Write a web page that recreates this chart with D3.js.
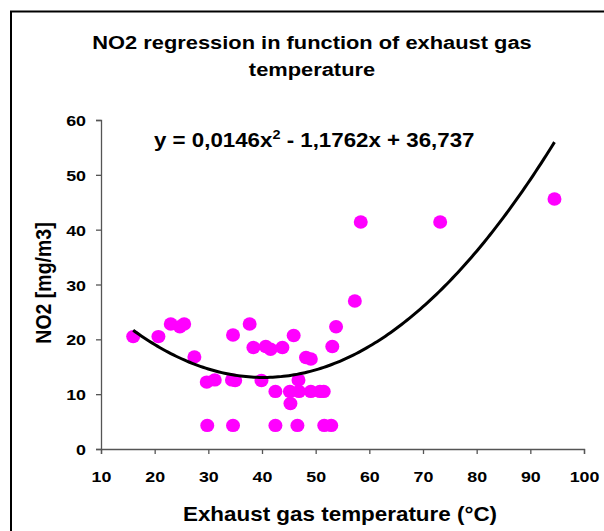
<!DOCTYPE html>
<html>
<head>
<meta charset="utf-8">
<script src="https://cdn.jsdelivr.net/npm/d3@7"></script>
<style>
  body { margin: 0; background: #fff; }
  text { font-family: "Liberation Sans", Arial, sans-serif; font-weight: bold; fill: #000; }
</style>
</head>
<body>
<svg id="chart" width="604" height="531"></svg>
<script>
// exhaust gas temperature (°C) / NO2 (mg/m3)
const temps = [16.0, 20.7, 23.0, 24.7, 25.5, 27.4, 29.7, 31.2, 29.8, 34.6,
  34.4, 35.0, 34.6, 37.7, 38.4, 40.7, 41.6, 43.8, 39.9, 42.5,
  42.5, 45.9, 46.8, 45.2, 46.9, 45.3, 46.6, 48.2, 49.1, 49.1,
  50.8, 51.5, 51.6, 52.9, 53.1, 53.8, 57.3, 58.4, 73.2, 94.5];
const no2 = [20.5, 20.5, 22.8, 22.3, 22.8, 16.8, 12.2, 12.6, 4.3, 20.8,
  12.6, 12.5, 4.3, 22.8, 18.5, 18.7, 18.2, 18.5, 12.5, 10.5,
  4.3, 20.7, 12.6, 10.5, 10.5, 8.3, 4.3, 16.7, 16.4, 10.5,
  10.5, 10.5, 4.3, 4.3, 18.7, 22.3, 27.0, 41.4, 41.4, 45.6];

// polynomial trendline as printed on the chart: a*x^2 + b*x + c
const trendCoef = [0.0146, -1.1762, 36.737];
const trendFrom = 16, trendTo = 94.5;

const xTicks = [10, 20, 30, 40, 50, 60, 70, 80, 90, 100];
const yTicks = [0, 10, 20, 30, 40, 50, 60];

const titleLines = ["NO2 regression in function of exhaust gas", "temperature"];
const xTitle = "Exhaust gas temperature (°C)";
const yTitle = "NO2 [mg/m3]";

const svg = d3.select("#chart");
const sx = 1.15; // the original text is a bit wide

// outer frame (runs off the right and bottom edge)
svg.append("rect")
  .attr("x", 11).attr("y", 11.5)
  .attr("width", 700).attr("height", 600)
  .attr("fill", "none").attr("stroke", "#000").attr("stroke-width", 2);

const x = d3.scaleLinear().domain([10, 100]).range([101, 584]);
const y = d3.scaleLinear().domain([0, 60]).range([449, 120]);

// title
svg.selectAll(".title")
  .data(titleLines)
  .enter().append("text")
  .attr("class", "title")
  .attr("transform", (d, i) => `translate(312,${49 + i * 27}) scale(${sx},1)`)
  .attr("text-anchor", "middle")
  .attr("font-size", 19)
  .text(d => d);

// axes
const xAxis = svg.append("g")
  .attr("transform", `translate(0,${y(0)})`)
  .call(d3.axisBottom(x).tickValues(xTicks).tickSize(5).tickPadding(0).tickFormat(d3.format("d")));
const yAxis = svg.append("g")
  .attr("transform", `translate(${x(10)},0)`)
  .call(d3.axisLeft(y).tickValues(yTicks).tickSize(5).tickPadding(0).tickFormat(d3.format("d")));

[xAxis, yAxis].forEach(g => {
  g.select(".domain").attr("stroke", "#555").attr("stroke-width", 1.3);
  g.selectAll(".tick line").attr("stroke", "#555").attr("stroke-width", 1.3);
  g.selectAll(".tick text").attr("font-size", 15.5).attr("fill", "#000");
});
xAxis.selectAll(".tick text")
  .attr("y", 0).attr("dy", 0)
  .attr("transform", `translate(0,33) scale(${sx},1)`);
yAxis.selectAll(".tick text")
  .attr("x", 0).attr("dy", "0.36em")
  .attr("transform", `translate(-15,0) scale(${sx},1)`);

// axis titles
svg.append("text")
  .attr("transform", `translate(340,521) scale(${sx},1)`)
  .attr("text-anchor", "middle")
  .attr("font-size", 19.5)
  .text(xTitle);

svg.append("text")
  .attr("transform", `translate(51,283) rotate(-90) scale(1,${sx})`)
  .attr("text-anchor", "middle")
  .attr("font-size", 19.5)
  .text(yTitle);

// points
const points = temps.map((t, i) => ({ t, v: no2[i] }));
svg.append("g").selectAll("ellipse")
  .data(points)
  .enter().append("ellipse")
  .attr("cx", d => x(d.t))
  .attr("cy", d => y(d.v))
  .attr("rx", 7)
  .attr("ry", 6.7)
  .attr("fill", "#ff00ff");

// trendline
const poly = t => trendCoef[0] * t * t + trendCoef[1] * t + trendCoef[2];
const trendX = d3.range(trendFrom, trendTo, 0.5).concat([trendTo]);
svg.append("path")
  .datum(trendX)
  .attr("fill", "none")
  .attr("stroke", "#000")
  .attr("stroke-width", 3)
  .attr("d", d3.line().x(t => x(t)).y(t => y(poly(t))).curve(d3.curveLinear));

// equation label
const eq = svg.append("text")
  .attr("transform", `translate(154,147) scale(${sx * 0.97},1)`)
  .attr("font-size", 20);
eq.append("tspan").text("y = 0,0146x");
eq.append("tspan").attr("dy", -8).attr("font-size", 13).text("2");
eq.append("tspan").attr("dy", 8).text(" - 1,1762x + 36,737");
</script>
</body>
</html>
